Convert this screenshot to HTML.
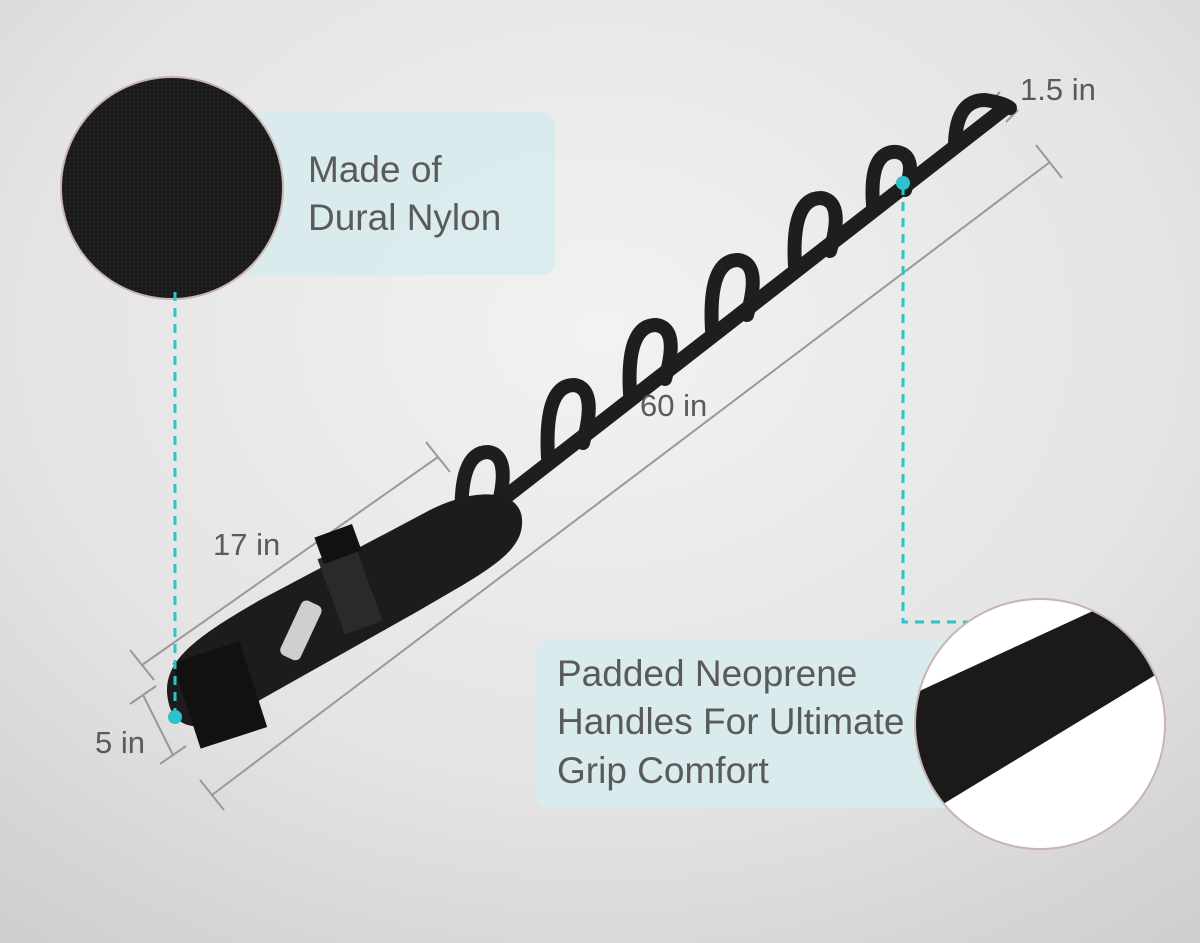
<!DOCTYPE html>
<html><head><meta charset="utf-8"><style>
html,body{margin:0;padding:0;width:1200px;height:943px;overflow:hidden}
svg{display:block}
text{font-family:"Liberation Sans",sans-serif;fill:#5a5a5a}
</style></head><body>
<svg width="1200" height="943" viewBox="0 0 1200 943" xmlns="http://www.w3.org/2000/svg">
<defs>
<radialGradient id="bg" cx="0.5" cy="0.35" r="0.8">
<stop offset="0" stop-color="#f2f2f2"/><stop offset="0.6" stop-color="#e4e4e4"/><stop offset="1" stop-color="#cfcfcf"/>
</radialGradient>
<pattern id="mesh" width="4" height="4" patternUnits="userSpaceOnUse">
<rect width="4" height="4" fill="#1a1a1a"/><circle cx="2" cy="2" r="0.9" fill="#2c2c2c"/>
</pattern>
<clipPath id="c2"><circle cx="1040" cy="724" r="124"/></clipPath>
</defs>
<rect width="1200" height="943" fill="url(#bg)"/>

<rect x="150" y="112" width="405" height="163" rx="14" fill="#d8ebee" opacity="0.9"/>
<rect x="535" y="640" width="430" height="168" rx="14" fill="#d8ebee" opacity="0.9"/>

<circle cx="172" cy="188" r="112" fill="#c9b4b4"/>
<circle cx="172" cy="188" r="110" fill="url(#mesh)"/>

<g stroke="#999" stroke-width="2" fill="none">
<line x1="212" y1="795" x2="1050" y2="162"/>
<line x1="200" y1="780" x2="224" y2="810"/>
<line x1="1036" y1="145" x2="1062" y2="178"/>
<line x1="142" y1="665" x2="438" y2="457"/>
<line x1="130" y1="650" x2="154" y2="680"/>
<line x1="426" y1="442" x2="450" y2="472"/>
<line x1="143" y1="695" x2="173" y2="755"/>
<line x1="130" y1="704" x2="156" y2="686"/>
<line x1="160" y1="764" x2="186" y2="746"/>
<line x1="993" y1="98" x2="1012" y2="116"/>
<line x1="988" y1="104" x2="1000" y2="92"/>
<line x1="1006" y1="122" x2="1018" y2="110"/>
</g>

<g fill="none" stroke="#1e1e1e" stroke-linecap="round" stroke-linejoin="round">
<line x1="440" y1="548" x2="1005" y2="108" stroke-width="15"/>
<g stroke-width="14">
<path d="M462 525 Q458 452 488 452 Q512 455 497 510"/>
<path d="M548 458 Q544 385 574 385 Q598 388 583 443"/>
<path d="M630 394 Q626 325 656 325 Q680 328 665 379"/>
<path d="M712 330 Q708 260 738 260 Q762 263 747 315"/>
<path d="M795 266 Q791 198 821 198 Q845 201 830 251"/>
<path d="M873 205 Q869 150 897 152 Q918 156 905 190"/>
<path d="M955 147 Q955 100 985 100 Q1005 103 1010 108"/>
</g>
</g>
<path d="M168 700 C160 660 200 635 260 600 L430 510 C480 485 525 490 522 525 C520 555 480 575 420 610 L260 700 C220 730 175 740 168 700 Z" fill="#1c1c1c"/>
<rect x="290" y="600" width="22" height="60" rx="6" fill="#cfcfcf" transform="rotate(25 300 630)"/>
<rect x="185" y="650" width="70" height="90" fill="#111" transform="rotate(-18 220 695)"/>
<rect x="330" y="550" width="40" height="80" fill="#2a2a2a" transform="rotate(-20 350 590)"/>
<rect x="318" y="530" width="40" height="28" fill="#111" transform="rotate(-20 338 544)"/>

<g stroke="#2ec3cc" stroke-width="3" stroke-dasharray="9 7" fill="none">
<line x1="175" y1="292" x2="175" y2="712"/>
<polyline points="903,186 903,622 970,622"/>
</g>
<circle cx="175" cy="717" r="7" fill="#2ec3cc"/>
<circle cx="903" cy="183" r="7" fill="#2ec3cc"/>

<circle cx="1040" cy="724" r="126" fill="#c9b4b4"/>
<g clip-path="url(#c2)">
<rect x="900" y="590" width="280" height="270" fill="#fff"/>
<polygon points="900,700 930,812 1180,660 1160,580" fill="#1a1a1a"/>
</g>

<text x="308" y="182" font-size="37">Made of</text>
<text x="308" y="230" font-size="37">Dural Nylon</text>
<text x="557" y="686" font-size="37">Padded Neoprene</text>
<text x="557" y="734" font-size="37">Handles For Ultimate</text>
<text x="557" y="783" font-size="37">Grip Comfort</text>
<text x="640" y="416" font-size="31">60 in</text>
<text x="213" y="555" font-size="31">17 in</text>
<text x="95" y="753" font-size="31">5 in</text>
<text x="1020" y="100" font-size="31">1.5 in</text>
</svg>
</body></html>
